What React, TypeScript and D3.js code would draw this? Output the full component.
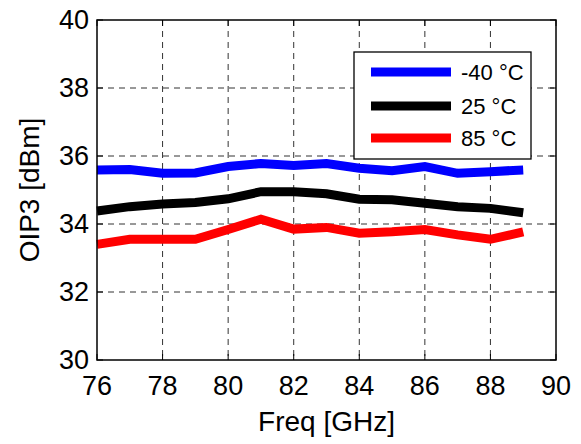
import React from "react";
import * as d3 from "d3";

// Frequency points in GHz
const freqs = [76, 77, 78, 79, 80, 81, 82, 83, 84, 85, 86, 87, 88, 89];

// OIP3 in dBm for each temperature
const oipMinus40 = [35.59, 35.6, 35.49, 35.5, 35.69, 35.78, 35.72, 35.78, 35.64, 35.57, 35.69, 35.49, 35.54, 35.59];
const oip25 = [34.38, 34.51, 34.59, 34.63, 34.74, 34.95, 34.95, 34.89, 34.73, 34.71, 34.61, 34.51, 34.46, 34.33];
const oip85 = [33.4, 33.55, 33.55, 33.55, 33.84, 34.14, 33.85, 33.9, 33.73, 33.77, 33.84, 33.68, 33.55, 33.77];

const seriesNames = ["-40 °C", "25 °C", "85 °C"];
const seriesColors = ["#0000ff", "#000000", "#ff0000"];

const xTicks = [76, 78, 80, 82, 84, 86, 88, 90];
const yTicks = [30, 32, 34, 36, 38, 40];

const W = 581;
const H = 444;
const left = 97;
const right = 556;
const top = 20;
const bottom = 360;
const font = "'Liberation Sans', Arial, Helvetica, sans-serif";

export default function App() {
  const x = d3.scaleLinear().domain([76, 90]).range([left, right]);
  const y = d3.scaleLinear().domain([30, 40]).range([bottom, top]);
  const series = [oipMinus40, oip25, oip85];
  const line = d3
    .line<number>()
    .x((_, i) => x(freqs[i]))
    .y((d) => y(d));

  const tickLen = 6;
  const legendRows = [72, 106, 138];

  return (
    <svg
      width={W}
      height={H}
      style={{ position: "absolute", left: 0, top: 0, background: "#fff" }}
      fontFamily={font}
    >
      <rect x={0} y={0} width={W} height={H} fill="#fff" />
      {/* grid */}
      <g stroke="#333" strokeWidth={1} strokeDasharray="6,5" fill="none">
        {xTicks.slice(1, -1).map((t) => (
          <line key={"gx" + t} x1={x(t)} x2={x(t)} y1={top} y2={bottom} />
        ))}
        {yTicks.slice(1, -1).map((t) => (
          <line key={"gy" + t} x1={left} x2={right} y1={y(t)} y2={y(t)} />
        ))}
      </g>
      {/* ticks on all sides, pointing inward */}
      <g stroke="#000" strokeWidth={1}>
        {xTicks.map((t) => (
          <g key={"tx" + t}>
            <line x1={x(t)} x2={x(t)} y1={bottom} y2={bottom - tickLen} />
            <line x1={x(t)} x2={x(t)} y1={top} y2={top + tickLen} />
          </g>
        ))}
        {yTicks.map((t) => (
          <g key={"ty" + t}>
            <line x1={left} x2={left + tickLen} y1={y(t)} y2={y(t)} />
            <line x1={right} x2={right - tickLen} y1={y(t)} y2={y(t)} />
          </g>
        ))}
      </g>
      {/* data lines */}
      {series.map((s, i) => (
        <path
          key={"s" + i}
          d={line(s) || ""}
          fill="none"
          stroke={seriesColors[i]}
          strokeWidth={9}
          strokeLinejoin="miter"
          strokeLinecap="butt"
        />
      ))}
      {/* axes box */}
      <rect
        x={left}
        y={top}
        width={right - left}
        height={bottom - top}
        fill="none"
        stroke="#000"
        strokeWidth={1.5}
      />
      {/* tick labels */}
      <g fontSize={27} fill="#000">
        {xTicks.map((t) => (
          <text key={"lx" + t} x={x(t)} y={395} textAnchor="middle">
            {t}
          </text>
        ))}
        {yTicks.map((t) => (
          <text key={"ly" + t} x={89} y={y(t)} textAnchor="end" dominantBaseline="central">
            {t}
          </text>
        ))}
      </g>
      {/* axis titles */}
      <text x={(left + right) / 2} y={431} textAnchor="middle" fontSize={28} fill="#000">
        Freq [GHz]
      </text>
      <text
        transform={`translate(38.5,${(top + bottom) / 2}) rotate(-90)`}
        textAnchor="middle"
        fontSize={28}
        fill="#000"
      >
        OIP3 [dBm]
      </text>
      {/* legend */}
      <rect x={354} y={52} width={177} height={107} fill="#fff" stroke="#000" strokeWidth={1.3} />
      {seriesNames.map((name, i) => (
        <g key={"lg" + i}>
          <line
            x1={371}
            x2={451}
            y1={legendRows[i]}
            y2={legendRows[i]}
            stroke={seriesColors[i]}
            strokeWidth={9}
          />
          <text x={461} y={legendRows[i]} dominantBaseline="central" fontSize={22} fill="#000">
            {name}
          </text>
        </g>
      ))}
    </svg>
  );
}
